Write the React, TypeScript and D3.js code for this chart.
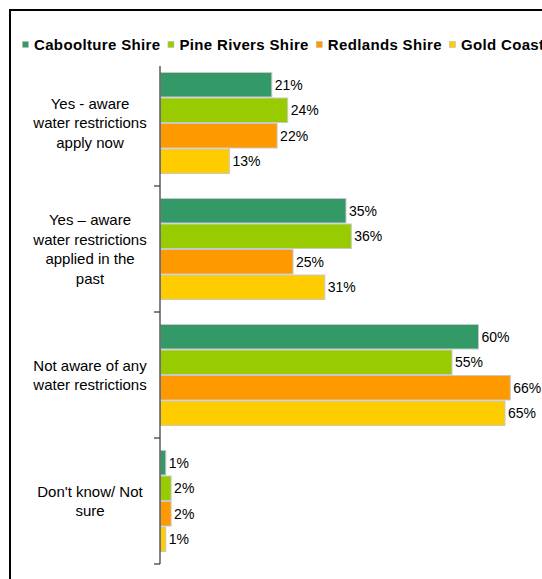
import React from "react";
import * as d3 from "d3";

const categories: string[][] = [
  ["Yes - aware", "water restrictions", "apply now"],
  ["Yes \u2013 aware", "water restrictions", "applied in the", "past"],
  ["Not aware of any", "water restrictions"],
  ["Don't know/ Not", "sure"],
];
const seriesNames = ["Caboolture Shire", "Pine Rivers Shire", "Redlands Shire", "Gold Coast"];
const caboolture = [21, 35, 60, 1];
const pineRivers = [24, 36, 55, 2];
const redlands = [22, 25, 66, 2];
const goldCoast = [13, 31, 65, 1];
const seriesValues = [caboolture, pineRivers, redlands, goldCoast];
const colors = ["#339966", "#99CC00", "#FF9900", "#FFCC00"];

const W = 542;
const H = 579;
const axisX = 160;
const plotTop = 60;
const plotBottom = 564;
const font = "'Liberation Sans', Arial, sans-serif";
const legendFontSize = 15;
const legendSpacing = 0.35;

function measure(text: string, size: number, weight: string): number {
  if (typeof document === "undefined") return text.length * size * 0.55;
  const c = document.createElement("canvas");
  const ctx = c.getContext("2d");
  if (!ctx) return text.length * size * 0.55;
  ctx.font = `${weight} ${size}px 'Liberation Sans', Arial, sans-serif`;
  return ctx.measureText(text).width;
}

export default function App() {
  const catKeys = categories.map((_, i) => String(i));
  const y = d3.scaleBand<string>().domain(catKeys).range([plotTop, plotBottom]);
  const inner = d3
    .scaleBand<string>()
    .domain(seriesNames)
    .range([12, y.bandwidth() - 12]);
  const x = d3.scaleLinear().domain([0, 100]).range([axisX, axisX + 530]);
  const lineH = 19.5;

  // legend layout: sequential items
  const legendPos: number[] = [];
  let lx = 22;
  seriesNames.forEach((s) => {
    legendPos.push(lx);
    const tw = measure(s, legendFontSize, "bold") + s.length * legendSpacing;
    lx += 7 + 5 + tw + 7;
  });

  return (
    <svg
      width={W}
      height={H}
      style={{ position: "absolute", left: 0, top: 0, background: "#fff" }}
      fontFamily={font}
    >
      <rect x={0} y={0} width={W} height={H} fill="#fff" />
      <rect x={10} y={10} width={W + 50} height={H + 50} fill="none" stroke="#000" strokeWidth={2} />

      {/* legend */}
      {seriesNames.map((s, i) => (
        <g key={s}>
          <rect x={legendPos[i] + 0.5} y={41.5} width={6} height={6} fill={colors[i]} stroke="#bbb" strokeWidth={0.6} />
          <text
            x={legendPos[i] + 12}
            y={50}
            fontSize={legendFontSize}
            fontWeight="bold"
            letterSpacing={legendSpacing}
            fill="#000"
          >
            {s}
          </text>
        </g>
      ))}

      {/* bars */}
      {seriesNames.map((s, si) =>
        seriesValues[si].map((v, ci) => {
          const by = (y(String(ci)) as number) + (inner(s) as number);
          const bh = inner.bandwidth();
          return (
            <g key={s + ci}>
              <rect
                x={x(0) + 0.5}
                y={by + 0.5}
                width={x(v) - x(0)}
                height={bh - 1}
                fill={colors[si]}
                stroke="#c8c8c8"
                strokeWidth={1}
              />
              <text x={x(v) + 3.5} y={by + bh / 2} dy="0.36em" fontSize={14} fill="#000">
                {v + "%"}
              </text>
            </g>
          );
        })
      )}

      {/* axis */}
      <line x1={axisX} x2={axisX} y1={66} y2={plotBottom} stroke="#333" strokeWidth={1.2} />
      {catKeys.map((k) => (
        <line
          key={"t" + k}
          x1={axisX - 6}
          x2={axisX}
          y1={(y(k) as number) + y.bandwidth()}
          y2={(y(k) as number) + y.bandwidth()}
          stroke="#333"
          strokeWidth={1.2}
        />
      ))}

      {/* category labels */}
      {categories.map((lines, ci) => {
        const cy = (y(String(ci)) as number) + y.bandwidth() / 2;
        const start = cy - ((lines.length - 1) * lineH) / 2;
        return (
          <text key={"c" + ci} textAnchor="middle" fontSize={15} fill="#000">
            {lines.map((l, li) => (
              <tspan key={li} x={90} y={start + li * lineH} dy="0.36em">
                {l}
              </tspan>
            ))}
          </text>
        );
      })}
    </svg>
  );
}
